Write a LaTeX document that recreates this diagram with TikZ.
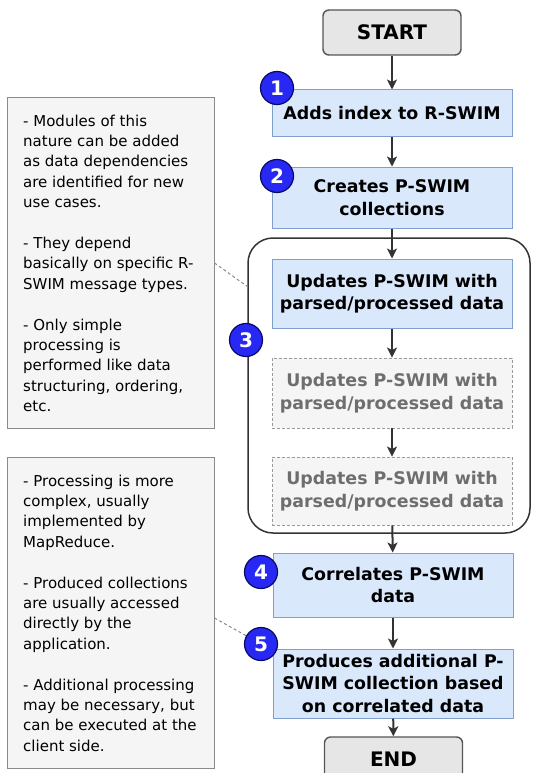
\documentclass[tikz,border=0pt]{standalone}
\usepackage{fontspec}
\setmainfont{DejaVu Sans}
\usetikzlibrary{arrows.meta}
\definecolor{bluefill}{HTML}{DAE8FC}
\definecolor{blueline}{HTML}{7FA0CF}
\definecolor{grayfill}{HTML}{F5F5F5}
\definecolor{grayline}{HTML}{8A8A8A}
\definecolor{ghostline}{HTML}{9A9A9A}
\definecolor{graytext}{HTML}{6E6E6E}
\definecolor{termfill}{HTML}{E6E6E6}
\definecolor{termline}{HTML}{555555}
\definecolor{arrowc}{HTML}{333333}
\definecolor{badgefill}{HTML}{2828F5}
\definecolor{badgeline}{HTML}{0A0A66}
\begin{document}
\begin{tikzpicture}[x=1pt,y=-1pt,
  flowbox/.style={draw=blueline, fill=bluefill, line width=1pt, minimum width=240pt,
    align=center, inner sep=0pt, font=\fontsize{17.4}{22.5}\selectfont\bfseries},
  ghostbox/.style={draw=ghostline, fill=grayfill, line width=0.9pt, dash pattern=on 3pt off 2pt,
    minimum width=240pt, align=center, inner sep=0pt, text=graytext,
    font=\fontsize{17.4}{22.5}\selectfont\bfseries},
  termbox/.style={draw=termline, fill=termfill, line width=1.4pt, rounded corners=6pt,
    minimum width=138pt, minimum height=45pt, inner sep=0pt,
    font=\fontsize{20}{24}\selectfont\bfseries},
  notebox/.style={draw=grayline, fill=grayfill, line width=1pt, minimum width=207pt, inner sep=0pt},
  notetext/.style={align=left, inner sep=0pt, anchor=north west,
    font=\fontsize{15}{20.4}\selectfont},
  badge/.style={circle, draw=badgeline, fill=badgefill, line width=1.2pt, minimum size=33pt,
    inner sep=0pt, text=white, font=\fontsize{20}{20}\selectfont\bfseries},
  flow/.style={draw=arrowc, line width=2pt, -{Stealth[length=10pt,width=10pt,inset=2.5pt]}},
  link/.style={draw=grayline, line width=1pt, dash pattern=on 3pt off 2.5pt}
]
\useasboundingbox (0,0) rectangle (534,773);

% group container
\node[draw=arrowc, line width=1.5pt, rounded corners=25pt, minimum width=282pt,
  minimum height=295pt, inner sep=0pt] (grp) at (389,385.5) {};
\coordinate (gin) at (248,287);

% flow boxes
\node[termbox] (start) at (392,32.5) {START};
\node[flowbox, minimum height=46pt] (b1) at (392,113) {Adds index to R-SWIM};
\node[flowbox, minimum height=61pt] (b2) at (392,197.5) {Creates P-SWIM\\collections};
\node[flowbox, minimum height=69pt] (b3a) at (392,293.5) {Updates P-SWIM with\\parsed/processed data};
\node[ghostbox, minimum height=70pt] (b3b) at (392,393) {Updates P-SWIM with\\parsed/processed data};
\node[ghostbox, minimum height=68pt] (b3c) at (392,491) {Updates P-SWIM with\\parsed/processed data};
\node[flowbox, minimum height=64pt] (b4) at (393,585) {Correlates P-SWIM\\data};
\node[flowbox, minimum height=69pt] (b5) at (393,683.5) {Produces additional P-\\SWIM collection based\\on correlated data};
\node[termbox] (stop) at (393.5,759.5) {END};

% arrows
\draw[flow] (start) -- (b1);
\draw[flow] (b1) -- (b2);
\draw[flow] (b2) -- (b3a);
\draw[flow] (b3a) -- (b3b);
\draw[flow] (b3b) -- (b3c);
\draw[flow] (b3c) -- (b4);
\draw[flow] (b4) -- (b5);
\draw[flow] (b5) -- (stop);

% badges
\node[badge] (n1) at (277,88) {1};
\node[badge] (n2) at (277,176) {2};
\node[badge] (n3) at (246,340) {3};
\node[badge] (n4) at (261,572) {4};
\node[badge] (n5) at (261,644) {5};

% notes
\node[notebox, minimum height=330pt] (note1) at (110.5,263) {};
\node[notetext] (note1t) at (23,114.5) {- Modules of this\\nature can be added\\as data dependencies\\are identified for new\\use cases.\\[20.4pt]- They depend\\basically on specific R-\\SWIM message types.\\[20.4pt]- Only simple\\processing is\\performed like data\\structuring, ordering,\\etc.};
\node[notebox, minimum height=311pt] (note2) at (110.5,612.5) {};
\node[notetext] (note2t) at (23,474.5) {- Processing is more\\complex, usually\\implemented by\\MapReduce.\\[20.4pt]- Produced collections\\are usually accessed\\directly by the\\application.\\[20.4pt]- Additional processing\\may be necessary, but\\can be executed at the\\client side.};

% dashed links
\draw[link] (note1.east) -- (gin);
\draw[link] (note2.east |- 0,618) -- (n5);
\end{tikzpicture}
\end{document}
